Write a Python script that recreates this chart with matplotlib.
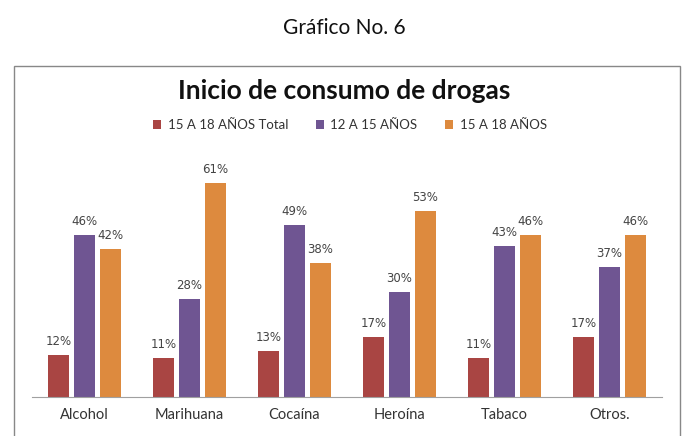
import numpy as np
import matplotlib.pyplot as plt
from matplotlib.patches import Rectangle

plt.rcParams['font.family'] = ['Lato', 'DejaVu Sans']

categorias = ['Alcohol', 'Marihuana', 'Cocaína', 'Heroína', 'Tabaco', 'Otros.']
total_15_18 = [12, 11, 13, 17, 11, 17]
edad_12_15 = [46, 28, 49, 30, 43, 37]
edad_15_18 = [42, 61, 38, 53, 46, 46]
series = ['15 A 18 AÑOS Total', '12 A 15 AÑOS', '15 A 18 AÑOS']
colores = ['#A94543', '#6F5592', '#DD8A3E']

fig = plt.figure(figsize=(6.89, 4.36), dpi=100)
fig.text(0.5, 1 - 28/436, 'Gráfico No. 6', ha='center', va='center', fontsize=15, color='#111111')

# marco del grafico
fig.patches.append(Rectangle((14/689, -0.1), (680-14)/689, 1.1 - 66/436,
                             transform=fig.transFigure, fill=False,
                             edgecolor='#888888', linewidth=1, clip_on=False))
fig.text(0.5, 1 - 91/436, 'Inicio de consumo de drogas', ha='center', va='center',
         fontsize=19, fontweight='bold', color='#111111')

ax = fig.add_axes([32/689, 1 - 397/436, (662-32)/689, (397-151)/436])
x = np.arange(len(categorias))
w = 0.2
paso = 0.248
datos = [total_15_18, edad_12_15, edad_15_18]
for i, (vals, col, lab) in enumerate(zip(datos, colores, series)):
    b = ax.bar(x + (i - 1) * paso, vals, w, color=col, label=lab)
    for xi, v in zip(x + (i - 1) * paso, vals):
        ax.text(xi, v + 2.0, f'{v}%', ha='center', va='bottom', fontsize=8.5,
                family='DejaVu Sans', color='#444444')

ax.set_xlim(-0.5, len(categorias) - 0.5)
ax.set_ylim(0, 70)
ax.set_xticks(x)
ax.set_xticklabels(categorias, fontsize=10.5, color='#333333')
ax.tick_params(axis='x', length=0, pad=8)
ax.set_yticks([])
for s in ['top', 'right', 'left']:
    ax.spines[s].set_visible(False)
ax.spines['bottom'].set_color('#A0A0A0')

leg = fig.legend(loc='center', bbox_to_anchor=(350/689, 1 - 125/436), ncol=3, frameon=False,
                 fontsize=9.5, handlelength=0.6, handleheight=0.6, columnspacing=2.1,
                 handletextpad=0.5, labelcolor='#333333')

plt.savefig('out.png', dpi=100)
